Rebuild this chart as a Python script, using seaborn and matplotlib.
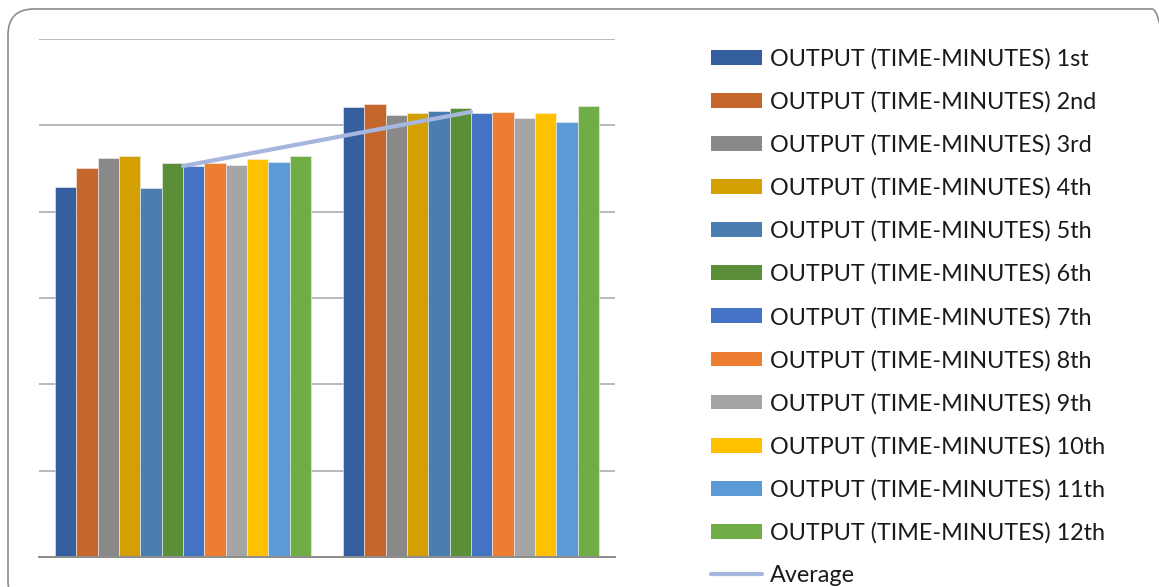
import numpy as np
import pandas as pd
import matplotlib
matplotlib.use("Agg")
import matplotlib.pyplot as plt
from matplotlib.patches import Patch, FancyBboxPatch
from matplotlib.lines import Line2D
import seaborn as sns

# Two measurement sets, twelve timed outputs each
categories = ["Set 1", "Set 2"]
runs = ["1st", "2nd", "3rd", "4th", "5th", "6th",
        "7th", "8th", "9th", "10th", "11th", "12th"]
set1_minutes = [42.8, 45.1, 46.2, 46.4, 42.7, 45.6, 45.3, 45.6, 45.4, 46.1, 45.8, 46.4]
set2_minutes = [52.1, 52.5, 51.2, 51.4, 51.7, 52.0, 51.4, 51.6, 50.8, 51.4, 50.4, 52.2]

run_colors = ["#355E9F", "#C5672A", "#898989", "#D49F00", "#4A7EB0", "#5B8E38",
              "#4472C4", "#ED7D31", "#A5A5A5", "#FFC000", "#5B9BD5", "#70AD47"]
avg_color = "#A6B6DE"
grid_color = "#A6A6A6"

labels = [f"OUTPUT (TIME-MINUTES) {r}" for r in runs]

df = pd.DataFrame({
    "set": np.repeat(categories, len(runs)),
    "run": labels * len(categories),
    "minutes": set1_minutes + set2_minutes,
})
averages = [np.mean(set1_minutes), np.mean(set2_minutes)]

sns.set_theme(style="white")
plt.rcParams["font.family"] = ["Lato", "DejaVu Sans"]

fig = plt.figure(figsize=(11.59, 5.87), dpi=100)
ax = fig.add_axes([39 / 1159, 30 / 587, 576 / 1159, 518 / 587])

sns.barplot(data=df, x="set", y="minutes", hue="run", order=categories,
            hue_order=labels, palette=run_colors, width=0.89, gap=0,
            saturation=1, edgecolor="#F2F2F2", linewidth=0.4,
            legend=False, ax=ax)

sns.lineplot(x=np.arange(len(categories)), y=averages, color=avg_color,
             linewidth=3, ax=ax, legend=False)

ax.set_xlim(-0.5, len(categories) - 0.5)
ax.set_ylim(0, 60)
ax.set_yticks(np.arange(0, 61, 10))
ax.yaxis.grid(True, color=grid_color, linewidth=1.1)
ax.set_axisbelow(True)
ax.set_xlabel("")
ax.set_ylabel("")
ax.set_xticklabels([])
ax.set_yticklabels([])
ax.tick_params(length=0)
for side in ["top", "right", "left"]:
    ax.spines[side].set_visible(False)
ax.spines["bottom"].set_color("#8C8C8C")
ax.spines["bottom"].set_linewidth(1.4)

handles = [Patch(facecolor=c, edgecolor="none") for c in run_colors]
handles.append(Line2D([0], [0], color=avg_color, linewidth=3))
fig.legend(handles, labels + ["Average"], loc="upper left",
           bbox_to_anchor=(711 / 1159, 1 - 48 / 587), frameon=False,
           fontsize=16.8, handlelength=2.19, handleheight=0.6,
           handletextpad=0.34, labelspacing=0.925, borderpad=0,
           borderaxespad=0, labelcolor="#1A1A1A")

# Rounded chart-area border
frame = FancyBboxPatch((8, -20), 1170, 598, boxstyle="round,pad=0,rounding_size=26",
                       transform=None, facecolor="none", edgecolor="#8C8C8C",
                       linewidth=1.2, clip_on=False)
fig.add_artist(frame)

fig.savefig("out.png", dpi=100)
